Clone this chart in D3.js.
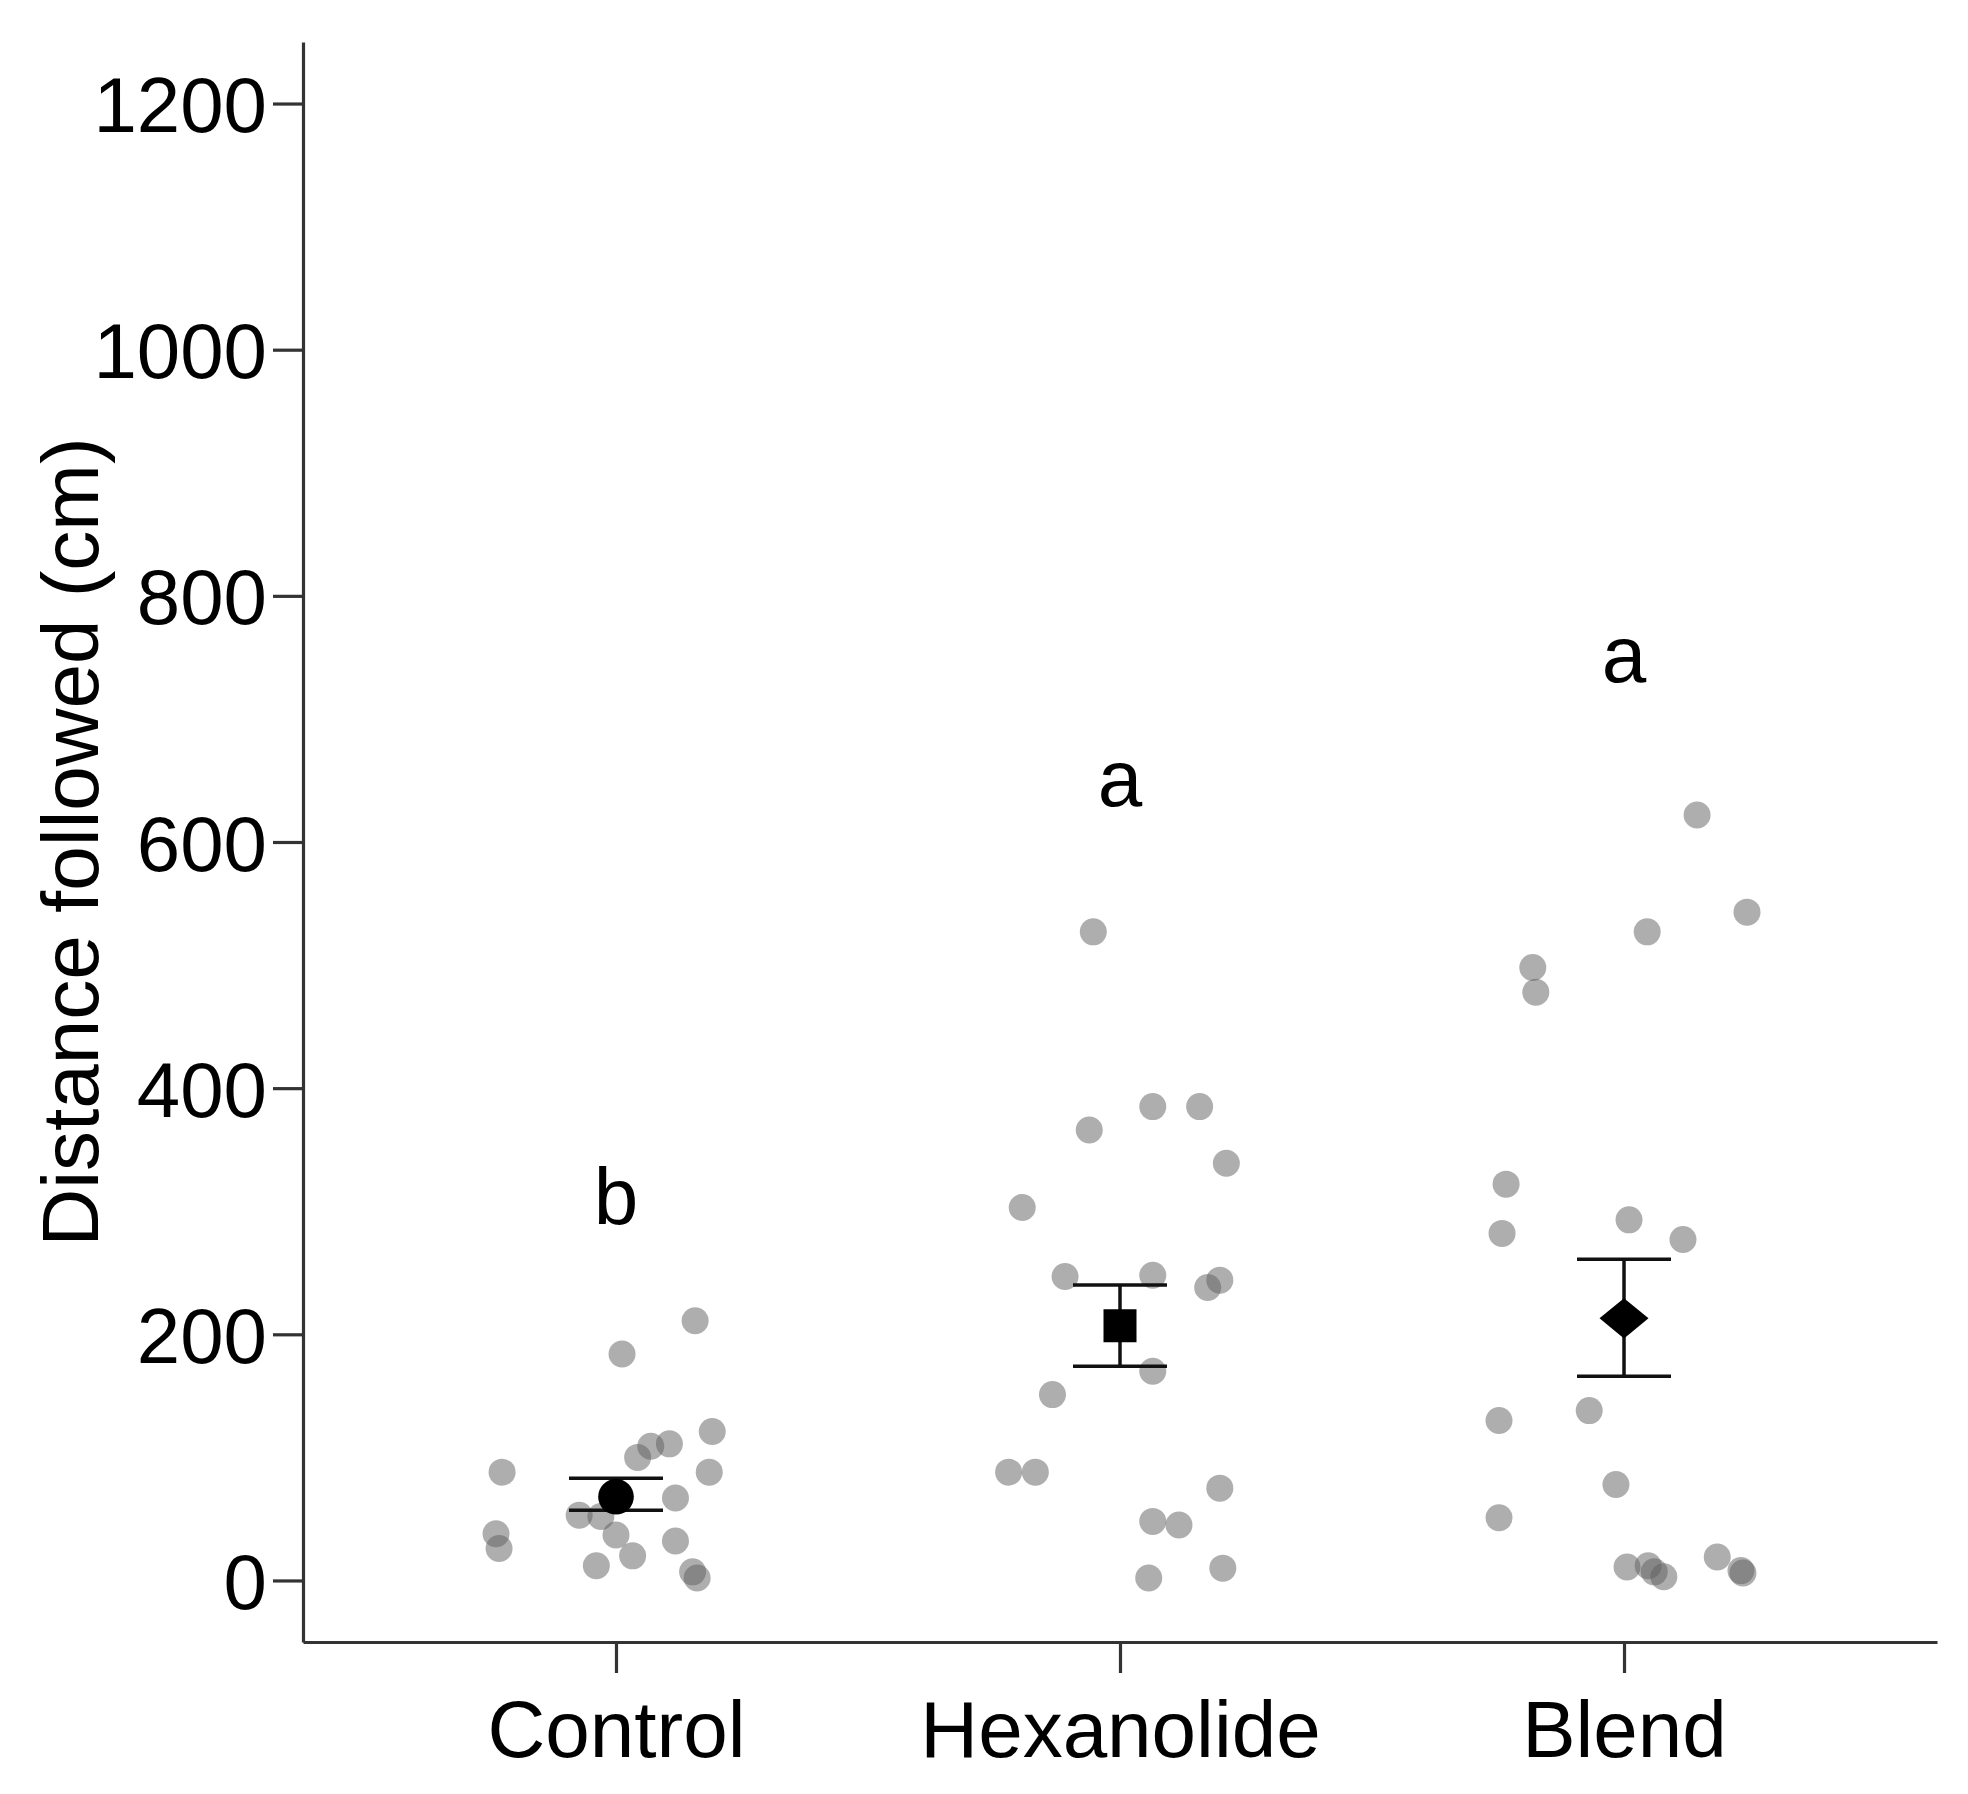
<!DOCTYPE html>
<html>
<head>
<meta charset="utf-8">
<script src="https://cdn.jsdelivr.net/npm/d3@7"></script>
<style>
  html, body { margin: 0; padding: 0; background: #fff; }
  text { font-family: "Liberation Sans", Arial, sans-serif; fill: #000; }
</style>
</head>
<body>
<div id="chart"></div>
<script>
// Distance followed per treatment: raw points (jittered), mean +/- SE, letters

const categories = ['Control', 'Hexanolide', 'Blend'];

// raw values (cm)
const controlValues = [211, 184, 121, 100, 109, 111, 88, 88, 67, 53, 52, 37, 20, 12, 32, 38, 26, 7, 2];
const hexanolideValues = [527, 385, 385, 366, 339, 303, 247, 248, 238, 244, 170, 151, 88, 88, 75, 48, 45, 10, 2];
const blendValues = [622, 543, 527, 498, 478, 322, 282, 293, 277, 138, 130, 78, 51, 11, 12, 7, 3, 19, 8, 6];

// horizontal jitter of each point, in fractions of the category step
const controlJitter = [0.157, 0.012, 0.191, 0.043, 0.069, 0.106, 0.185, -0.226, 0.118, -0.073, -0.030, 0.000, 0.033, -0.039, 0.118, -0.238, -0.232, 0.152, 0.161];
const hexanolideJitter = [-0.053, 0.065, 0.158, -0.061, 0.211, -0.194, -0.109, 0.065, 0.174, 0.198, 0.065, -0.134, -0.221, -0.168, 0.198, 0.065, 0.117, 0.204, 0.057];
const blendJitter = [0.145, 0.244, 0.046, -0.181, -0.175, -0.234, -0.242, 0.010, 0.117, -0.069, -0.248, -0.016, -0.248, 0.006, 0.048, 0.060, 0.079, 0.185, 0.232, 0.236];

// group summaries
const means = [68, 207, 213];
const seLow = [57, 174, 166];
const seHigh = [83, 240, 261];

// significance letters and the value their baseline sits at
const sigLetters = ['b', 'a', 'a'];
const sigY = [290, 629, 730];

const yTicks = [0, 200, 400, 600, 800, 1000, 1200];
const yTitle = 'Distance followed (cm)';

const W = 1968, H = 1794;
const margin = { top: 42, right: 31, bottom: 152, left: 303 };

const svg = d3.select('#chart').append('svg')
  .attr('width', W)
  .attr('height', H);

const x = d3.scalePoint()
  .domain(categories)
  .range([margin.left, W - margin.right])
  .padding(0.621);

const y = d3.scaleLinear()
  .domain([-50, 1250])
  .range([H - margin.bottom, margin.top]);

const jitter = d3.scaleLinear().domain([0, 1]).range([0, x.step()]);

const groups = [
  { name: 'Control', values: controlValues, jit: controlJitter, symbol: d3.symbolCircle, size: 1000, tf: '' },
  { name: 'Hexanolide', values: hexanolideValues, jit: hexanolideJitter, symbol: d3.symbolSquare, size: 1089, tf: '' },
  { name: 'Blend', values: blendValues, jit: blendJitter, symbol: d3.symbolSquare, size: 807, tf: ' scale(1.22,1) rotate(45)' }
];

// raw points
const pts = [];
groups.forEach(g => g.values.forEach((v, i) => pts.push({ cat: g.name, v, j: g.jit[i] })));

svg.append('g')
  .selectAll('circle')
  .data(pts)
  .enter().append('circle')
  .attr('cx', d => x(d.cat) + jitter(d.j))
  .attr('cy', d => y(d.v))
  .attr('r', 13.5)
  .attr('fill', '#5e5e5e')
  .attr('fill-opacity', 0.5);

// error bars
const capHalf = 47;
const eb = svg.append('g').attr('stroke', '#111').attr('stroke-width', 3.5);
categories.forEach((c, i) => {
  const cx = x(c);
  eb.append('line').attr('x1', cx).attr('x2', cx).attr('y1', y(seLow[i])).attr('y2', y(seHigh[i]));
  eb.append('line').attr('x1', cx - capHalf).attr('x2', cx + capHalf).attr('y1', y(seLow[i])).attr('y2', y(seLow[i]));
  eb.append('line').attr('x1', cx - capHalf).attr('x2', cx + capHalf).attr('y1', y(seHigh[i])).attr('y2', y(seHigh[i]));
});

// mean markers
svg.append('g')
  .selectAll('path')
  .data(groups)
  .enter().append('path')
  .attr('d', g => d3.symbol().type(g.symbol).size(g.size)())
  .attr('transform', (g, i) => `translate(${x(g.name)},${y(means[i])})${g.tf}`)
  .attr('fill', '#000');

// significance letters
svg.append('g')
  .selectAll('text')
  .data(sigLetters)
  .enter().append('text')
  .attr('x', (d, i) => x(categories[i]))
  .attr('y', (d, i) => y(sigY[i]))
  .attr('text-anchor', 'middle')
  .style('font-size', '80px')
  .text(d => d);

// axes
const yAxis = svg.append('g')
  .attr('transform', `translate(${margin.left},0)`)
  .call(d3.axisLeft(y).tickValues(yTicks).tickFormat(d3.format('d'))
    .tickSize(30).tickSizeOuter(0).tickPadding(6));

const xAxis = svg.append('g')
  .attr('transform', `translate(0,${H - margin.bottom})`)
  .call(d3.axisBottom(x).tickSize(31).tickSizeOuter(0).tickPadding(8));

[yAxis, xAxis].forEach(a => {
  a.select('.domain').attr('stroke', '#333').attr('stroke-width', 3.2);
  a.selectAll('.tick line').attr('stroke', '#333').attr('stroke-width', 3.2);
  a.selectAll('.tick text').attr('fill', '#000').style('font-family', '"Liberation Sans", Arial, sans-serif');
});
yAxis.selectAll('.tick text').style('font-size', '78px').attr('dy', '0.36em');
xAxis.selectAll('.tick text').style('font-size', '80px').attr('dy', '0').attr('y', 115);

// y title
svg.append('text')
  .attr('transform', `translate(98,${(margin.top + H - margin.bottom) / 2}) rotate(-90)`)
  .attr('text-anchor', 'middle')
  .style('font-size', '80px')
  .text(yTitle);
</script>
</body>
</html>
